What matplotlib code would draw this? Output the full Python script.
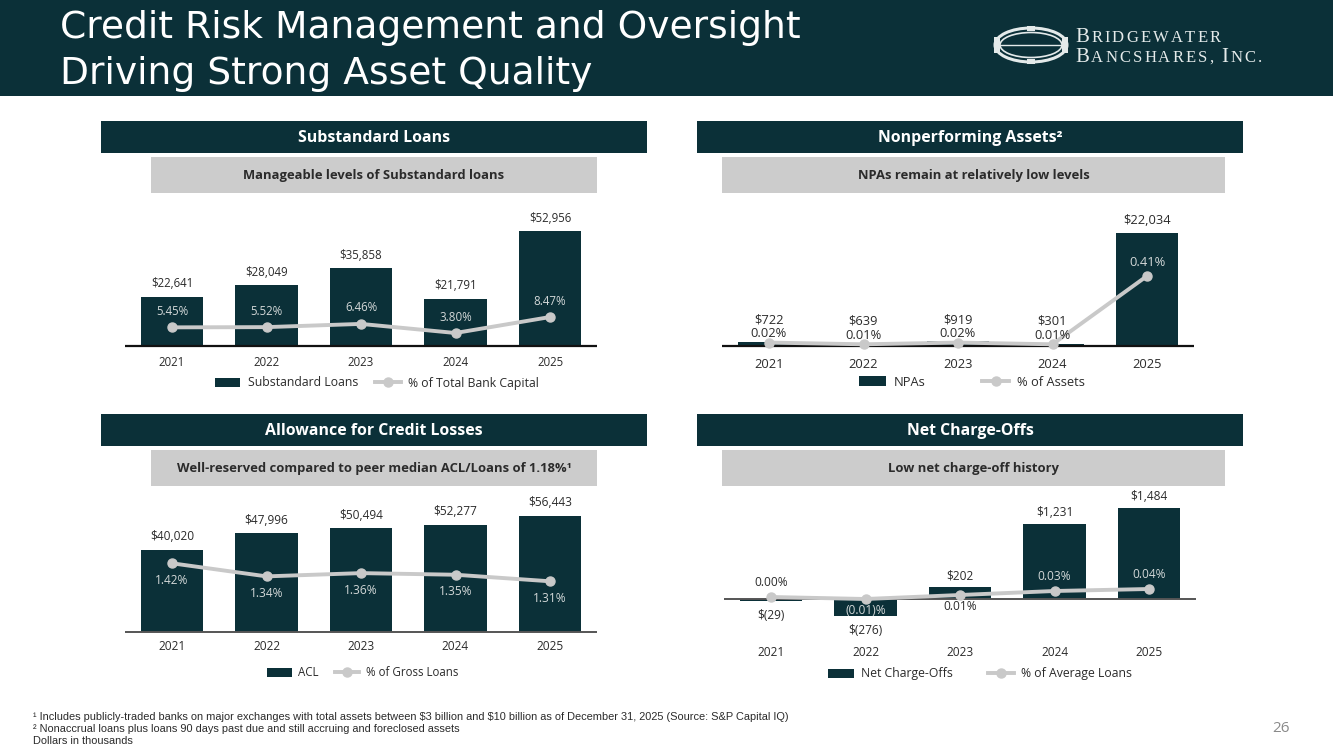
import matplotlib
matplotlib.use('Agg')
import matplotlib.pyplot as plt
from matplotlib.patches import Rectangle, Ellipse, Patch
from matplotlib.lines import Line2D

# ---------------- data ----------------
years = ['2021', '2022', '2023', '2024', '2025']
substandard_loans = [22641, 28049, 35858, 21791, 52956]
substandard_pct_capital = [5.45, 5.52, 6.46, 3.80, 8.47]
npas = [722, 639, 919, 301, 22034]
npa_pct_assets = [0.02, 0.01, 0.02, 0.01, 0.41]
acl = [40020, 47996, 50494, 52277, 56443]
acl_pct_loans = [1.42, 1.34, 1.36, 1.35, 1.31]
net_charge_offs = [-29, -276, 202, 1231, 1484]
nco_pct_avg_loans = [0.00, -0.01, 0.01, 0.03, 0.04]

# ---------------- style ----------------
W, H = 1333, 749
DARK = '#0b3038'
GREY_BOX = '#cccccc'
LINE = '#c9c9c9'
TXT = '#2b2b2b'
LIGHT_TXT = '#d3d8d8'

plt.rcParams['font.family'] = ['Open Sans', 'DejaVu Sans']
plt.rcParams['text.parse_math'] = False

fig = plt.figure(figsize=(W / 100, H / 100), dpi=100)
fig.patch.set_facecolor('white')
renderer = fig.canvas.get_renderer()


def fx(x):
    return x / W


def fy(y):
    return 1 - y / H


def rect(x0, y0, x1, y1, color, z=0):
    fig.patches.append(Rectangle((fx(x0), fy(y1)), (x1 - x0) / W, (y1 - y0) / H,
                                 transform=fig.transFigure, facecolor=color,
                                 edgecolor='none', zorder=z))


def fit_text(x, y, s, width, size, **kw):
    t = fig.text(fx(x), fy(y), s, fontsize=size, **kw)
    w = t.get_window_extent(renderer=renderer).width
    t.set_fontsize(size * width / w)
    return t


def box(x0, y0, x1, y1, color, text, tcolor, size):
    rect(x0, y0, x1, y1, color)
    fig.text(fx((x0 + x1) / 2), fy((y0 + y1) / 2 + 1), text, color=tcolor,
             ha='center', va='center', fontsize=size, fontweight='bold')


# ---------------- header ----------------
rect(0, 0, W, 96, DARK)
t1 = fit_text(60, 38, 'Credit Risk Management and Oversight', 740, 26, color='white',
              va='baseline', ha='left', family=['DejaVu Sans'])
fig.text(fx(60), fy(84), 'Driving Strong Asset Quality', color='white',
         fontsize=t1.get_fontsize(), va='baseline', ha='left', family=['DejaVu Sans'])

# logo
LOGO = '#e4eaea'
for w_, h_, lw_ in [(72, 34, 2.2), (62, 25, 1.2)]:
    fig.patches.append(Ellipse((fx(1031), fy(45)), w_ / W, h_ / H, transform=fig.transFigure,
                               facecolor='none', edgecolor=LOGO, lw=lw_))
fig.lines.append(Line2D([fx(1000), fx(1062)], [fy(45), fy(45)], transform=fig.transFigure,
                        color=LOGO, lw=1.0))
for (a, b, c, d) in [(994, 37, 1000, 53), (1062, 37, 1068, 53), (1027, 26, 1035, 31), (1027, 59, 1035, 64)]:
    rect(a, b, c, d, LOGO, z=2)


def smallcaps(x, y, segments):
    cur = x
    for txt, size, gap in segments:
        for ch in txt:
            t = fig.text(fx(cur), fy(y), ch, fontsize=size, family=['Liberation Serif'],
                         color=LOGO, va='baseline', ha='left')
            cur += t.get_window_extent(renderer=renderer).width + 2.2
        cur += gap


smallcaps(1075, 42, [('B', 15, 0), ('RIDGEWATER', 12, 0)])
smallcaps(1075, 62, [('B', 15, 0), ('ANCSHARES,', 12, 5), ('I', 15, 0), ('NC.', 12, 0)])

# ---------------- panel boxes ----------------
box(101, 121, 647, 153, DARK, 'Substandard Loans', 'white', 11.4)
box(151, 157, 597, 193, GREY_BOX, 'Manageable levels of Substandard loans', TXT, 9.4)
box(697, 121, 1243, 153, DARK, 'Nonperforming Assets²', 'white', 11.4)
box(722, 157, 1225, 193, GREY_BOX, 'NPAs remain at relatively low levels', TXT, 9.4)
box(101, 414, 647, 446, DARK, 'Allowance for Credit Losses', 'white', 11.4)
box(151, 450, 597, 486, GREY_BOX, 'Well-reserved compared to peer median ACL/Loans of 1.18%¹', TXT, 9.4)
box(697, 414, 1243, 446, DARK, 'Net Charge-Offs', 'white', 11.4)
box(722, 450, 1225, 486, GREY_BOX, 'Low net charge-off history', TXT, 9.4)


def dollars(v):
    return f'${v:,}' if v >= 0 else f'$({abs(v):,})'


def pct(v):
    return f'{v:.2f}%' if v >= 0 else f'({abs(v):.2f})%'


def chart(c0, ytop, ybot, yb, kbar, kline, v0, bars, pcts, fs, year_off,
          bar_lab, pct_lab, base_color, base_lw, legend_labels, legend_xy, legend_fs, colspace):
    x0 = c0 - 47.25
    x1 = c0 + 4 * 94.5 + 47.25
    ax = fig.add_axes([fx(x0), fy(ybot), (x1 - x0) / W, (ybot - ytop) / H])
    ax.set_xlim(-0.5, 4.5)
    ax.set_ylim((yb - ybot) / kbar, (yb - ytop) / kbar)
    ax.axis('off')
    xs = list(range(len(bars)))
    ax.bar(xs, bars, width=0.66, color=DARK, zorder=2)
    ax.axhline(0, color=base_color, lw=base_lw, zorder=3)
    ax2 = ax.twinx()
    ax2.set_ylim(v0 + (yb - ybot) / kline, v0 + (yb - ytop) / kline)
    ax2.axis('off')
    ax2.plot(xs, pcts, color=LINE, lw=2.8, marker='o', ms=6.5, zorder=4,
             solid_capstyle='round')
    for i, (b, p) in enumerate(zip(bars, pcts)):
        bpx = kbar * b
        mpx = kline * (p - v0)
        poff = pct_lab(i, b, bpx)
        lab_y = mpx + poff
        inside = (min(0, bpx) < lab_y < max(0, bpx))
        ax2.annotate(pct(p), xy=(i, p), xytext=(0, poff), textcoords='offset pixels',
                     ha='center', va='center', fontsize=fs,
                     color=LIGHT_TXT if inside else TXT, zorder=6)
        boff = bar_lab(i, b, bpx, lab_y)
        ax.annotate(dollars(b), xy=(i, b), xytext=(0, boff), textcoords='offset pixels',
                    ha='center', va='center', fontsize=fs, color=TXT)
        ax.annotate(years[i], xy=(i, 0), xytext=(0, -year_off), textcoords='offset pixels',
                    ha='center', va='center', fontsize=fs, color=TXT)
    handles = [Patch(facecolor=DARK, edgecolor='none'),
               Line2D([], [], color=LINE, lw=2.8, marker='o', ms=6.5)]
    fig.legend(handles, legend_labels, loc='center',
               bbox_to_anchor=(fx(legend_xy[0]), fy(legend_xy[1])), ncol=2, frameon=False,
               fontsize=legend_fs, handlelength=2.1, handleheight=0.7,
               handletextpad=0.6, columnspacing=colspace, labelcolor=TXT)
    return ax


# Chart 1: Substandard loans
chart(172, 200, 350, 346, 115 / 52956, 3.42, 0.0,
      substandard_loans, substandard_pct_capital, 8.3, 16,
      bar_lab=lambda i, b, bpx, ly: 13,
      pct_lab=lambda i, b, bpx: 16,
      base_color='#111111', base_lw=1.6,
      legend_labels=['Substandard Loans', '% of Total Bank Capital'],
      legend_xy=(377, 383), legend_fs=8.8, colspace=1.4)


# Chart 2: NPAs
def npa_pct_lab(i, b, bpx):
    return 14 if bpx > 30 else 9


def npa_bar_lab(i, b, bpx, ly):
    return 13 if bpx > 30 else (ly - bpx) + 14


chart(769, 200, 350, 346, 113 / 22034, 70 / 0.41, 0.0,
      npas, npa_pct_assets, 9.3, 18,
      bar_lab=npa_bar_lab, pct_lab=npa_pct_lab,
      base_color='#111111', base_lw=1.6,
      legend_labels=['NPAs', '% of Assets'],
      legend_xy=(972, 382), legend_fs=9.3, colspace=4.4)

# Chart 3: ACL
chart(172, 495, 636, 632, 116 / 56443, 163.6, 1.0,
      acl, acl_pct_loans, 8.6, 15,
      bar_lab=lambda i, b, bpx, ly: 13,
      pct_lab=lambda i, b, bpx: -17,
      base_color='#555555', base_lw=1.4,
      legend_labels=['ACL', '% of Gross Loans'],
      legend_xy=(363, 673), legend_fs=8.3, colspace=1.4)

# Chart 4: Net charge-offs
nco_pct_side = [1, -1, -1, 1, 1]


def nco_pct_lab(i, b, bpx):
    return -11 if nco_pct_side[i] < 0 else 14


def nco_bar_lab(i, b, bpx, ly):
    return 11 if b > 0 else -15


chart(771, 495, 640, 599, 91 / 1484, 200, -0.01,
      net_charge_offs, nco_pct_avg_loans, 8.6, 53,
      bar_lab=nco_bar_lab, pct_lab=nco_pct_lab,
      base_color='#555555', base_lw=1.4,
      legend_labels=['Net Charge-Offs', '% of Average Loans'],
      legend_xy=(980, 674), legend_fs=8.8, colspace=2.9)

# ---------------- footnotes ----------------
FN = ['Liberation Sans Narrow', 'Liberation Sans', 'DejaVu Sans']
fit_text(33, 717, '¹ Includes publicly-traded banks on major exchanges with total assets between $3 billion and $10 billion as of December 31, 2025 (Source: S&P Capital IQ)',
         752, 7.3, family=FN, color=TXT, va='center', ha='left')
fig.text(fx(33), fy(729), '² Nonaccrual loans plus loans 90 days past due and still accruing and foreclosed assets',
         fontsize=fig.texts[-1].get_fontsize(), family=FN, color=TXT, va='center', ha='left')
fig.text(fx(33), fy(741), 'Dollars in thousands',
         fontsize=fig.texts[-1].get_fontsize(), family=FN, color=TXT, va='center', ha='left')
fig.text(fx(1281), fy(729), '26', fontsize=11, color='#8a8a8a', ha='center', va='center')

fig.savefig('out.png', dpi=100, facecolor='white')
